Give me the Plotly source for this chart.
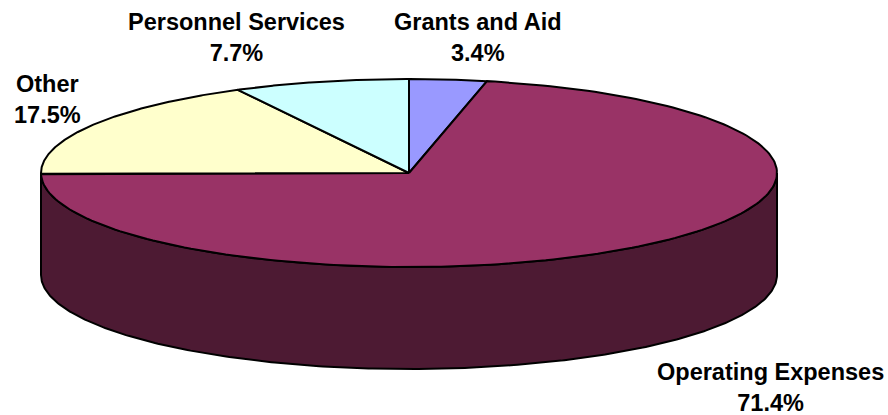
import numpy as np
import plotly.graph_objects as go

categories = ["Grants and Aid", "Operating Expenses", "Other", "Personnel Services"]
values = [3.4, 71.4, 17.5, 7.7]
top_colors = ["#9999FF", "#993366", "#FFFFCC", "#CCFFFF"]
wall_color = "#4D1A33"
label_pos = [(478, 37), (770, 387), (47, 99), (236, 37)]

CX, CY, RX, RY, DEPTH = 409, 173, 368, 94, 102
W, H = 888, 415

def ell(theta):
    return CX + RX * np.sin(theta), CY - RY * np.cos(theta)

fig = go.Figure()
total = sum(values)
fr = np.cumsum([0] + values) / total * 2 * np.pi

# side wall: visible part of the Operating Expenses slice
t = np.linspace(np.pi / 2, 1.5 * np.pi, 300)
x, y = ell(t)
fig.add_trace(go.Scatter(
    x=np.r_[x, x[::-1], x[0]], y=np.r_[y, y[::-1] + DEPTH, y[0]],
    mode="lines", fill="toself", fillcolor=wall_color,
    line=dict(color="black", width=2), hoverinfo="skip", showlegend=False))

# top faces
for i, c in enumerate(categories):
    t = np.linspace(fr[i], fr[i + 1], 200)
    x, y = ell(t)
    fig.add_trace(go.Scatter(
        x=np.r_[CX, x, CX], y=np.r_[CY, y, CY],
        mode="lines", fill="toself", fillcolor=top_colors[i],
        line=dict(color="black", width=2), name=c, showlegend=False))

for c, v, (lx, ly) in zip(categories, values, label_pos):
    fig.add_annotation(x=lx, y=ly, text=f"<b>{c}<br>{v}%</b>", showarrow=False,
                       font=dict(family="Liberation Sans", size=23.5, color="black"),
                       align="center")

fig.update_xaxes(range=[0, W], visible=False)
fig.update_yaxes(range=[H, 0], visible=False)
fig.update_layout(width=W, height=H, margin=dict(l=0, r=0, t=0, b=0),
                  plot_bgcolor="white", paper_bgcolor="white", showlegend=False)
fig.write_html("out.html", config={"displayModeBar": False},
               post_script="document.body.style.margin='0';document.body.style.overflow='hidden';")
